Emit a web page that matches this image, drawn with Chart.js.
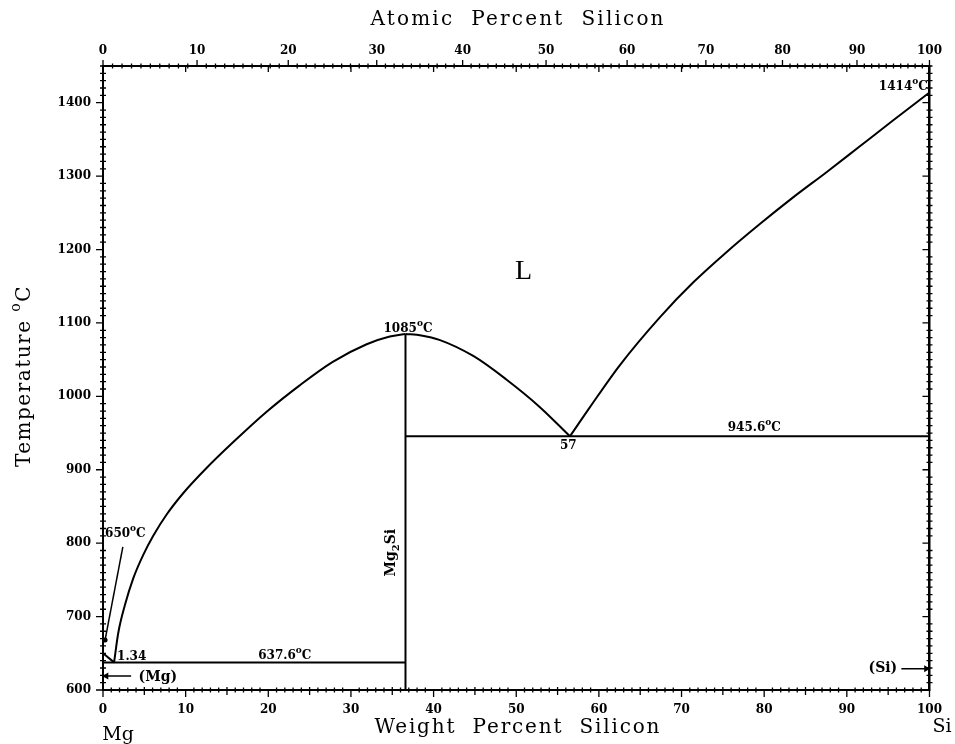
<!DOCTYPE html>
<html>
<head>
<meta charset="utf-8">
<script src="https://cdn.jsdelivr.net/npm/chart.js@4.4.1/dist/chart.umd.min.js"></script>
<style>
html, body { margin: 0; padding: 0; background: #fff; }
#wrap { width: 955px; height: 744px; }
</style>
</head>
<body>
<div id="wrap"><canvas id="c" width="955" height="744"></canvas></div>
<script>
// tick labels
const weightTicks = [0, 10, 20, 30, 40, 50, 60, 70, 80, 90, 100];
const atomicTicks = [0, 10, 20, 30, 40, 50, 60, 70, 80, 90, 100];
const tempTicks = [600, 700, 800, 900, 1000, 1100, 1200, 1300, 1400];

// Mg liquidus (650 -> eutectic)
const mgLiqWt = [0, 1.34];
const mgLiqT = [650, 637.6];

// liquidus Mg side up to Mg2Si
const leftLiqWt = [1.34, 1.85, 2.66, 3.66, 4.87, 6.08, 7.7, 9.7, 12.5, 15.7, 19.8, 23.8, 27.8, 31.9, 34.7, 36.6];
const leftLiqT = [637.6, 678, 716, 752, 784, 810, 839, 868, 902, 937, 979, 1015, 1047, 1071, 1081.5, 1085];

// liquidus Mg2Si down to the eutectic
const midLiqWt = [36.6, 38.5, 40.7, 44.8, 48.8, 52.8, 56.5];
const midLiqT = [1085, 1083, 1077, 1055, 1023, 986, 945.6];

// liquidus eutectic up to Si
const siLiqWt = [56.5, 58.9, 62.5, 67.4, 71.4, 75.4, 79.4, 83.5, 87.5, 91.5, 95.5, 100];
const siLiqT = [945.6, 985, 1042, 1108, 1155, 1196, 1234, 1271, 1305, 1340, 1375, 1414];

// compound and eutectic lines
const mg2siWt = 36.6;
const mg2siT = [600, 1085];
const eutLeftWt = [0, 36.6];
const eutLeftT = 637.6;
const eutRightWt = [36.6, 100];
const eutRightT = 945.6;

// point labels
const labelMgMelt = '650';
const labelEutLeft = '637.6';
const labelEutLeftComp = '1.34';
const labelMg2siMelt = '1085';
const labelEutRight = '945.6';
const labelEutRightComp = '57';
const labelSiMelt = '1414';

// atomic masses for the top axis
const massMg = 24.305;
const massSi = 28.086;

function atToWt(a) {
    return a * massSi / (a * massSi + (100 - a) * massMg) * 100;
}

function pts(xs, ys) {
    return xs.map((x, i) => ({ x: x, y: Array.isArray(ys) ? ys[i] : ys }));
}

function line(data, smooth) {
    return {
        data: data,
        showLine: true,
        borderColor: '#000',
        borderWidth: 2,
        pointRadius: 0,
        cubicInterpolationMode: smooth ? 'monotone' : 'default',
        tension: 0
    };
}

const serif = "'DejaVu Serif', 'Liberation Serif', serif";
const tickFont = { family: serif, size: 12, weight: 'bold' };

// draw a number followed by a superscript o and C
function drawDeg(ctx, text, x, y, align) {
    ctx.font = 'bold 12px ' + serif;
    const w1 = ctx.measureText(text).width;
    ctx.font = 'bold 9px ' + serif;
    const w2 = ctx.measureText('o').width;
    ctx.font = 'bold 12px ' + serif;
    const w3 = ctx.measureText('C').width;
    const total = w1 + w2 + w3;
    let x0 = x;
    if (align === 'center') x0 = x - total / 2;
    if (align === 'right') x0 = x - total;
    ctx.textAlign = 'left';
    ctx.textBaseline = 'alphabetic';
    ctx.fillText(text, x0, y);
    ctx.font = 'bold 9px ' + serif;
    ctx.fillText('o', x0 + w1, y - 6);
    ctx.font = 'bold 12px ' + serif;
    ctx.fillText('C', x0 + w1 + w2, y);
}

function spacedText(ctx, text, cx, cy, width) {
    ctx.letterSpacing = '0px';
    const w = ctx.measureText(text).width;
    const sp = (width - w) / (text.length - 1);
    ctx.letterSpacing = sp + 'px';
    ctx.textAlign = 'left';
    ctx.textBaseline = 'middle';
    ctx.fillText(text, cx - width / 2, cy);
    ctx.letterSpacing = '0px';
}

const decorations = {
    id: 'decorations',
    afterDraw(chart) {
        const ctx = chart.ctx;
        const xs = chart.scales.x;
        const ys = chart.scales.y;
        const a = chart.chartArea;
        const X = v => xs.getPixelForValue(v);
        const Y = v => ys.getPixelForValue(v);
        ctx.save();
        ctx.strokeStyle = '#000';
        ctx.fillStyle = '#000';
        ctx.lineWidth = 1.3;

        // temperature ticks, left and right
        ctx.beginPath();
        for (let t = 600; t <= 1450; t += 10) {
            const y = Y(t);
            if (t % 100 === 0) {
                ctx.moveTo(a.left - 7, y); ctx.lineTo(a.left + 1, y);
                ctx.moveTo(a.right - 7, y); ctx.lineTo(a.right, y);
            } else {
                ctx.moveTo(a.left - 3, y); ctx.lineTo(a.left + 3, y);
                ctx.moveTo(a.right - 3, y); ctx.lineTo(a.right + 3, y);
            }
        }
        // weight ticks, bottom, plus weight majors on top
        for (let w = 0; w <= 100; w += 1) {
            const x = X(w);
            if (w % 10 === 0) {
                ctx.moveTo(x, a.bottom - 1); ctx.lineTo(x, a.bottom + 7);
                ctx.moveTo(x, a.top); ctx.lineTo(x, a.top + 6);
            } else if (w % 5 === 0) {
                ctx.moveTo(x, a.bottom - 3); ctx.lineTo(x, a.bottom + 5);
            } else {
                ctx.moveTo(x, a.bottom - 2.5); ctx.lineTo(x, a.bottom + 2.5);
            }
        }
        // atomic ticks, top
        for (let at = 0; at <= 100; at += 1) {
            const x = X(atToWt(at));
            if (at % 10 === 0) {
                ctx.moveTo(x, a.top - 6); ctx.lineTo(x, a.top + 1);
            } else {
                ctx.moveTo(x, a.top - 2.5); ctx.lineTo(x, a.top + 2.5);
            }
        }
        ctx.stroke();

        // axis titles
        ctx.font = '20px ' + serif;
        spacedText(ctx, 'Atomic  Percent  Silicon', 517, 20, 293);
        spacedText(ctx, 'Weight  Percent  Silicon', 517, 728, 285);
        ctx.font = '19px ' + serif;
        ctx.textAlign = 'center';
        ctx.textBaseline = 'middle';
        ctx.fillText('Mg', 118, 735);
        ctx.fillText('Si', 942, 727);

        ctx.save();
        ctx.translate(25, 376);
        ctx.rotate(-Math.PI / 2);
        ctx.font = '20px ' + serif;
        ctx.letterSpacing = '1.5px';
        ctx.textAlign = 'left';
        ctx.textBaseline = 'middle';
        const tw = ctx.measureText('Temperature ').width;
        const cw = ctx.measureText('C').width;
        ctx.font = '14px ' + serif;
        const ow = ctx.measureText('o').width;
        const total = tw + ow + cw;
        ctx.font = '20px ' + serif;
        ctx.fillText('Temperature ', -total / 2, 0);
        ctx.font = '14px ' + serif;
        ctx.fillText('o', -total / 2 + tw, -9);
        ctx.font = '20px ' + serif;
        ctx.fillText('C', -total / 2 + tw + ow, 0);
        ctx.restore();

        // phase field
        ctx.font = '28px ' + "'Liberation Serif', serif";
        ctx.textAlign = 'center';
        ctx.textBaseline = 'middle';
        ctx.fillText('L', X(50.9), Y(1170));

        // point labels
        drawDeg(ctx, labelSiMelt, X(99.8), Y(1417), 'right');
        drawDeg(ctx, labelMg2siMelt, X(36.9), Y(1088), 'center');
        drawDeg(ctx, labelEutRight, X(78.8), Y(953), 'center');
        drawDeg(ctx, labelEutLeft, X(22), Y(642), 'center');
        drawDeg(ctx, labelMgMelt, X(0.25), Y(808), 'left');
        ctx.font = 'bold 12px ' + serif;
        ctx.textAlign = 'center';
        ctx.textBaseline = 'top';
        ctx.fillText(labelEutRightComp, X(56.3), Y(941));
        ctx.textAlign = 'left';
        ctx.textBaseline = 'alphabetic';
        ctx.fillText(labelEutLeftComp, X(1.7), Y(641));

        ctx.font = 'bold 14px ' + serif;
        ctx.textAlign = 'left';
        ctx.textBaseline = 'middle';
        ctx.fillText('(Mg)', X(4.3), Y(617));
        ctx.textAlign = 'right';
        ctx.fillText('(Si)', X(96.1), Y(629));

        // Mg2Si label, rotated
        ctx.save();
        ctx.translate(X(34.9), Y(787));
        ctx.rotate(-Math.PI / 2);
        ctx.font = 'bold 14px ' + serif;
        const m1 = ctx.measureText('Mg').width;
        const m3 = ctx.measureText('Si').width;
        ctx.font = 'bold 10px ' + serif;
        const m2 = ctx.measureText('2').width;
        const start = -(m1 + m2 + m3) / 2;
        ctx.textAlign = 'left';
        ctx.textBaseline = 'middle';
        ctx.font = 'bold 14px ' + serif;
        ctx.fillText('Mg', start, 0);
        ctx.font = 'bold 10px ' + serif;
        ctx.fillText('2', start + m1, 5);
        ctx.font = 'bold 14px ' + serif;
        ctx.fillText('Si', start + m1 + m2, 0);
        ctx.restore();

        ctx.restore();
    }
};

const chart = new Chart(document.getElementById('c'), {
    type: 'scatter',
    data: {
        datasets: [
            line(pts(mgLiqWt, mgLiqT), false),
            line(pts(leftLiqWt, leftLiqT), true),
            line(pts(midLiqWt, midLiqT), true),
            line(pts(siLiqWt, siLiqT), true),
            line(pts([mg2siWt, mg2siWt], mg2siT), false),
            line(pts(eutLeftWt, eutLeftT), false),
            line(pts(eutRightWt, eutRightT), false),
            // leader line to the Mg melting point
            Object.assign(line([{ x: 2.4, y: 795 }, { x: 0.25, y: 668 }], false), {
                borderWidth: 1.5, pointRadius: [0, 2.5], pointBackgroundColor: '#000', pointBorderWidth: 0
            }),
            // (Mg) and (Si) arrows
            Object.assign(line([{ x: 0.4, y: 619 }, { x: 3.4, y: 619 }], false), {
                borderWidth: 1.5, pointStyle: 'triangle', pointRadius: [4, 0],
                rotation: -90, pointBackgroundColor: '#000', pointBorderWidth: 0
            }),
            Object.assign(line([{ x: 96.6, y: 629 }, { x: 99.6, y: 629 }], false), {
                borderWidth: 1.5, pointStyle: 'triangle', pointRadius: [0, 4],
                rotation: 90, pointBackgroundColor: '#000', pointBorderWidth: 0
            })
        ]
    },
    options: {
        responsive: false,
        animation: false,
        devicePixelRatio: 1,
        layout: { padding: 0 },
        plugins: { legend: { display: false }, tooltip: { enabled: false } },
        scales: {
            x: {
                type: 'linear', position: 'bottom', min: 0, max: 100,
                afterBuildTicks: s => { s.ticks = weightTicks.map(v => ({ value: v })); },
                afterFit: s => { s.height = 54; },
                ticks: {
                    autoSkip: false, maxRotation: 0, padding: 13, color: '#000', font: tickFont,
                    callback: v => String(v)
                },
                grid: { display: false, drawTicks: false },
                border: { display: true, color: '#000', width: 2 }
            },
            x2: {
                type: 'linear', position: 'top', min: 0, max: 100,
                afterBuildTicks: s => { s.ticks = atomicTicks.map(v => ({ value: atToWt(v) })); },
                afterFit: s => { s.height = 66; },
                ticks: {
                    autoSkip: false, maxRotation: 0, padding: 8, color: '#000', font: tickFont,
                    callback: (v, i) => String(atomicTicks[i])
                },
                grid: { display: false, drawTicks: false },
                border: { display: true, color: '#000', width: 2 }
            },
            y: {
                type: 'linear', position: 'left', min: 600, max: 1450,
                afterBuildTicks: s => { s.ticks = tempTicks.map(v => ({ value: v })); },
                afterFit: s => { s.width = 103; },
                ticks: {
                    autoSkip: false, padding: 12, color: '#000', font: tickFont,
                    callback: v => String(v)
                },
                grid: { display: false, drawTicks: false },
                border: { display: true, color: '#000', width: 2 }
            },
            y2: {
                type: 'linear', position: 'right', min: 600, max: 1450,
                afterFit: s => { s.width = 25; },
                ticks: { display: false },
                grid: { display: false, drawTicks: false },
                border: { display: true, color: '#000', width: 2.5 }
            }
        }
    },
    plugins: [decorations]
});
</script>
</body>
</html>
